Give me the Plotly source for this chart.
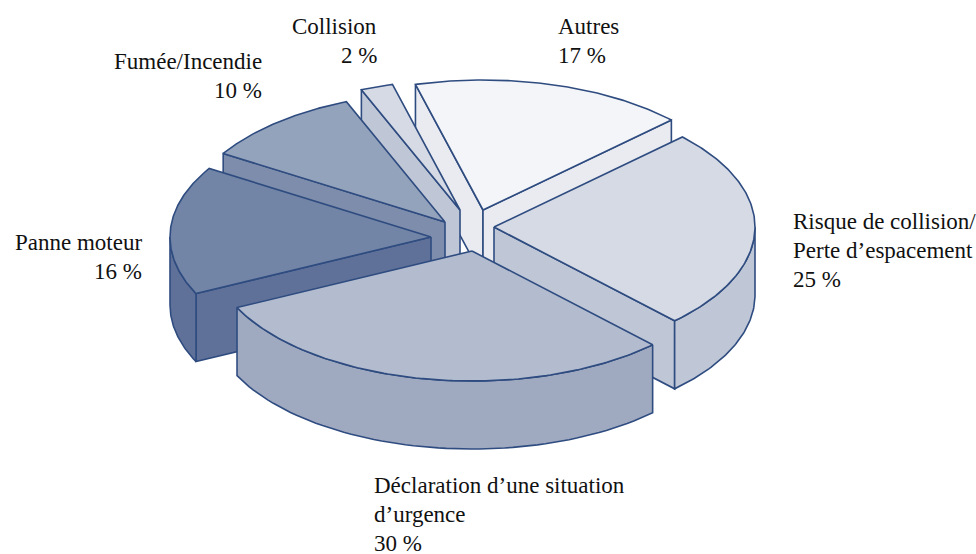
import numpy as np
import plotly.graph_objects as go

# --- data -------------------------------------------------------------
categories = ["Autres", "Risque de collision/\nPerte d’espacement",
              "Déclaration d’une situation\nd’urgence",
              "Panne moteur", "Fumée/Incendie", "Collision"]
values = [17, 25, 30, 16, 10, 2]

# --- styles / geometry ------------------------------------------------
top_colors = ["#f3f5f8", "#d5dae5", "#b3bccf", "#7385a6", "#94a3bc", "#d5dae5"]
wall_colors = ["#e9ebf1", "#bfc7d7", "#9fa9c0", "#5f7198", "#7d8dab", "#bfc7d7"]
pull_x = [20, 31, 9, -32, -18, -3]
pull_y = [-20, -3, 21, 7, -8, -20]
label_x = [558, 793, 374, 142, 262, 377]
label_y = [26, 221, 485, 242, 61, 26]
label_anchor = ["left", "left", "left", "right", "right", "right"]
draw_order = [0, 5, 4, 1, 3, 2]
CX, CY = 463, 230
A, B = 261, 130
DEPTH = 68
START = -15.0
LINE = "#2f4c80"
LW = 1.6
FONT = dict(family="Liberation Serif", size=23, color="#111111")
LINE_STEP = 29.3

fig = go.Figure()


def poly(xs, ys, color):
    fig.add_trace(go.Scatter(x=list(xs), y=list(ys), mode="lines", fill="toself",
                             fillcolor=color, line=dict(color=LINE, width=LW),
                             hoverinfo="skip", showlegend=False))


def rim(tx, ty, deg):
    t = np.radians(deg)
    return tx + A * np.sin(t), ty - B * np.cos(t)


cum = np.cumsum([0] + values)
total = cum[-1]
for i in draw_order:
    a0 = START + 360 * cum[i] / total
    a1 = START + 360 * cum[i + 1] / total
    tx, ty = CX + pull_x[i], CY + pull_y[i]
    # radial walls: cull those facing away from the viewer
    for ang, normal in ((a0, a0 - 90), (a1, a1 + 90)):
        if np.cos(np.radians(normal)) < 0:
            rx, ry = rim(tx, ty, ang)
            poly([tx, rx, rx, tx, tx], [ty, ry, ry + DEPTH, ty + DEPTH, ty], wall_colors[i])
    # outer wall: visible part of the rim only
    lo, hi = max(a0, 90), min(a1, 270)
    if hi > lo:
        th = np.linspace(lo, hi, 60)
        rx, ry = rim(tx, ty, th)
        poly(np.r_[rx, rx[::-1], rx[0]], np.r_[ry, ry[::-1] + DEPTH, ry[0]], wall_colors[i])
    # top face
    th = np.linspace(a0, a1, 120)
    rx, ry = rim(tx, ty, th)
    poly(np.r_[tx, rx, tx], np.r_[ty, ry, ty], top_colors[i])

# --- labels -----------------------------------------------------------
for i, cat in enumerate(categories):
    lines = cat.split("\n") + [f"{values[i]} %"]
    for j, text in enumerate(lines):
        fig.add_annotation(x=label_x[i], y=label_y[i] + j * LINE_STEP, text=text,
                           xref="x", yref="y", showarrow=False, xanchor=label_anchor[i],
                           yanchor="middle", font=FONT, borderpad=0, borderwidth=0)

fig.update_layout(width=976, height=554, margin=dict(l=0, r=0, t=0, b=0),
                  paper_bgcolor="white", plot_bgcolor="white", showlegend=False,
                  xaxis=dict(range=[0, 976], visible=False, fixedrange=True),
                  yaxis=dict(range=[554, 0], visible=False, fixedrange=True))
fig.write_html("out.html", config=dict(displayModeBar=False),
               post_script="document.body.style.margin='0';document.body.style.overflow='hidden';")
